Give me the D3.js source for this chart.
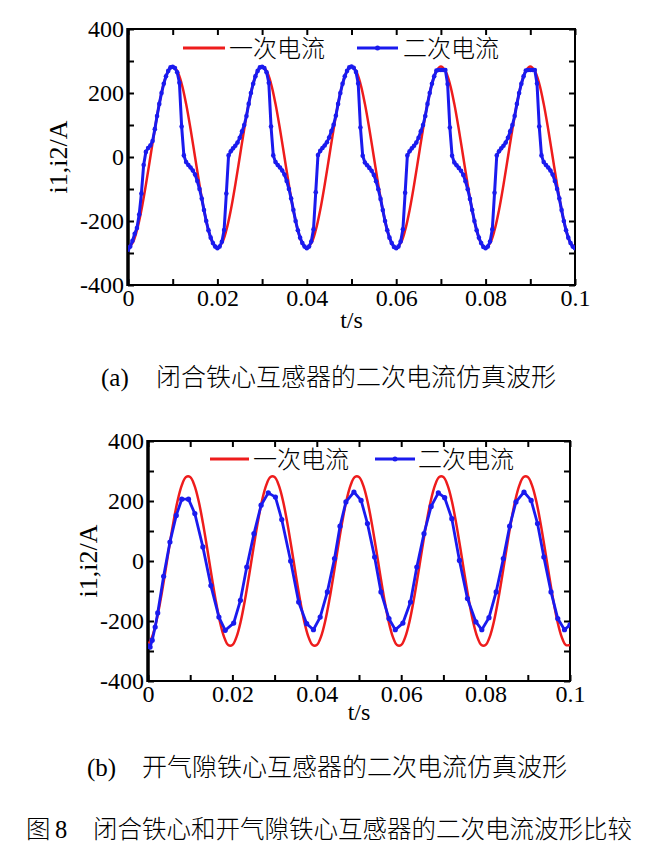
<!DOCTYPE html>
<html>
<head>
<meta charset="utf-8">
<script src="https://cdn.jsdelivr.net/npm/d3@7"></script>
<style>
  body { margin: 0; background: #fff; }
  svg text { fill: #000; }
  .num { font-family: "Liberation Serif", "Times New Roman", serif; }
  .cjk { font-family: "Noto Sans CJK SC", sans-serif; font-weight: 300; }
</style>
</head>
<body>
<svg id="svgBlock" width="646" height="853"></svg>
<script>
// legend names and tick labels
const seriesNames = ["一次电流", "二次电流"];
const xTicks = [0, 0.01, 0.02, 0.03, 0.04, 0.05, 0.06, 0.07, 0.08, 0.09, 0.1];
const xLabels = ["0", "", "0.02", "", "0.04", "", "0.06", "", "0.08", "", "0.1"];
const yTicks = [-400, -300, -200, -100, 0, 100, 200, 300, 400];
const yLabels = ["-400", "", "-200", "", "0", "", "200", "", "400"];

// (a) closed core: i1 sampled every 1 ms
const aTime1 = d3.range(0, 101).map(i => i * 0.001);
const aI1 = [
  -283,-269,-229,-166,-87,0,87,166,229,269,283,269,229,166,87,0,-87,-166,-229,-269,
  -283,-269,-229,-166,-87,0,87,166,229,269,283,269,229,166,87,0,-87,-166,-229,-269,
  -283,-269,-229,-166,-87,0,87,166,229,269,283,269,229,166,87,0,-87,-166,-229,-269,
  -283,-269,-229,-166,-87,0,87,166,229,269,283,269,229,166,87,0,-87,-166,-229,-269,
  -283,-269,-229,-166,-87,0,87,166,229,269,283,269,229,166,87,0,-87,-166,-229,-269,
  -283
];
// (a) closed core: i2 sampled every 0.5 ms
const aTime2 = d3.range(0, 201).map(i => i * 0.0005);
const aI2 = [
  -290,-280,-262,-240,-222,-180,-114,-25,16,28,36,50,87,128,166,200,229,252,269,280,
  282,278,265,232,95,5,-16,-25,-33,-42,-55,-75,-100,-130,-166,-200,-229,-252,-269,-280,
  -285,-280,-265,-228,-114,5,18,27,35,45,60,80,100,128,166,200,229,252,269,280,
  282,278,265,232,95,5,-16,-25,-33,-42,-55,-75,-100,-130,-166,-200,-229,-252,-269,-280,
  -285,-280,-264,-226,-110,6,19,28,36,46,61,81,101,129,166,200,229,252,269,280,
  283,279,266,230,92,4,-17,-26,-34,-43,-56,-76,-101,-131,-166,-200,-229,-252,-269,-281,
  -285,-280,-264,-226,-112,5,18,27,35,45,60,80,100,128,166,200,229,252,270,272,
  272,272,272,228,92,4,-17,-26,-34,-43,-56,-76,-101,-131,-166,-200,-229,-252,-269,-281,
  -285,-280,-264,-226,-112,5,18,27,35,45,60,80,100,128,166,200,229,252,270,272,
  272,272,272,230,95,5,-16,-25,-33,-42,-55,-75,-100,-130,-166,-200,-229,-252,-269,-280,
  -285
];

// (b) air-gap core: i1 sampled every 1 ms
const bTime1 = d3.range(0, 101).map(i => i * 0.001);
const bI1 = [
  -280,-252,-200,-128,-44,44,128,200,252,280,280,252,200,128,44,-44,-128,-200,-252,-280,
  -280,-252,-200,-128,-44,44,128,200,252,280,280,252,200,128,44,-44,-128,-200,-252,-280,
  -280,-252,-200,-128,-44,44,128,200,252,280,280,252,200,128,44,-44,-128,-200,-252,-280,
  -280,-252,-200,-128,-44,44,128,200,252,280,280,252,200,128,44,-44,-128,-200,-252,-280,
  -280,-252,-200,-128,-44,44,128,200,252,280,280,252,200,128,44,-44,-128,-200,-252,-280,
  -280
];
// (b) air-gap core: i2 at the solver's output points
const bTime2 = [
  0, 0.0005, 0.0010, 0.0017, 0.0023, 0.0037, 0.0052, 0.0067, 0.0080, 0.0096,
  0.0111, 0.0130, 0.0149, 0.0168, 0.0183, 0.0203, 0.0219, 0.0234, 0.0251, 0.0268,
  0.0285, 0.0302, 0.0317, 0.0338, 0.0357, 0.0376, 0.0392, 0.0408, 0.0425, 0.0442,
  0.0455, 0.0469, 0.0488, 0.0505, 0.0520, 0.0537, 0.0552, 0.0571, 0.0586, 0.0604,
  0.0622, 0.0637, 0.0654, 0.0671, 0.0688, 0.0703, 0.0720, 0.0738, 0.0757, 0.0777,
  0.0791, 0.0808, 0.0825, 0.0842, 0.0857, 0.0872, 0.0891, 0.0908, 0.0923, 0.0938,
  0.0955, 0.0971, 0.0987, 0.1000
];
const bI2 = [
  -283, -287, -264, -220, -173, -51, 63, 152, 206, 206,
  158, 47, -82, -187, -231, -207, -131, -20, 91, 186,
  227, 213, 138, 0, -137, -209, -229, -187, -103, 8,
  116, 197, 230, 202, 125, 13, -103, -192, -229, -207,
  -137, -20, 91, 182, 227, 211, 141, 2, -125, -203,
  -229, -189, -103, 8, 116, 197, 230, 202, 125, 13,
  -103, -192, -229, -213
];

const svg = d3.select("#svgBlock");

function drawPanel(p) {
  const x = d3.scaleLinear().domain([0, 0.1]).range([p.left, p.right]);
  const y = d3.scaleLinear().domain([-400, 400]).range([p.bottom, p.top]);
  const g = svg.append("g");

  const fmtX = d => xLabels[xTicks.indexOf(d)];
  const fmtY = d => yLabels[yTicks.indexOf(d)];

  // axes with inward ticks
  const styleAxis = sel => {
    sel.select(".domain").remove();
    sel.selectAll(".tick line").attr("stroke", "#000").attr("stroke-width", 2);
    sel.selectAll("text").attr("class", "num").style("font-size", "24px").attr("fill", "#000");
  };
  g.append("g").attr("transform", `translate(0,${p.bottom})`)
    .call(d3.axisBottom(x).tickValues(xTicks).tickFormat(fmtX).tickSizeInner(-6).tickSizeOuter(0).tickPadding(4))
    .call(styleAxis);
  g.append("g").attr("transform", `translate(0,${p.top})`)
    .call(d3.axisTop(x).tickValues(xTicks).tickFormat("").tickSizeInner(-6).tickSizeOuter(0))
    .call(styleAxis);
  g.append("g").attr("transform", `translate(${p.left},0)`)
    .call(d3.axisLeft(y).tickValues(yTicks).tickFormat(fmtY).tickSizeInner(-6).tickSizeOuter(0).tickPadding(4))
    .call(styleAxis);
  g.append("g").attr("transform", `translate(${p.right},0)`)
    .call(d3.axisRight(y).tickValues(yTicks).tickFormat("").tickSizeInner(-6).tickSizeOuter(0))
    .call(styleAxis);

  // frame
  g.append("rect")
    .attr("x", p.left).attr("y", p.top)
    .attr("width", p.right - p.left).attr("height", p.bottom - p.top)
    .attr("fill", "none").attr("stroke", "#000").attr("stroke-width", 2);
  g.append("line")
    .attr("x1", p.left).attr("x2", p.left).attr("y1", p.top - 1).attr("y2", p.bottom + 1)
    .attr("stroke", "#000").attr("stroke-width", 3.5);

  // curves
  const clipId = "clip" + p.id;
  g.append("clipPath").attr("id", clipId).append("rect")
    .attr("x", p.left).attr("y", p.top).attr("width", p.right - p.left).attr("height", p.bottom - p.top);
  const plot = g.append("g").attr("clip-path", `url(#${clipId})`);

  const red = p.t1.map((t, i) => [t, p.i1[i]]);
  const blue = p.t2.map((t, i) => [t, p.i2[i]]);
  const lineRed = d3.line().x(d => x(d[0])).y(d => y(d[1])).curve(d3.curveCatmullRom);
  const lineBlue = d3.line().x(d => x(d[0])).y(d => y(d[1]));

  plot.append("path").datum(red).attr("d", lineRed)
    .attr("fill", "none").attr("stroke", "#ee1c1c").attr("stroke-width", 2.5);
  plot.append("path").datum(blue).attr("d", lineBlue)
    .attr("fill", "none").attr("stroke", "#1a1aee").attr("stroke-width", p.blueW);
  plot.selectAll("circle.m").data(blue).enter().append("circle")
    .attr("class", "m")
    .attr("cx", d => x(d[0])).attr("cy", d => y(d[1]))
    .attr("r", p.markR).attr("fill", "#1a1aee");

  // legend
  const ly = p.legendY;
  g.append("line").attr("x1", p.leg[0]).attr("x2", p.leg[1]).attr("y1", ly).attr("y2", ly)
    .attr("stroke", "#ee1c1c").attr("stroke-width", 3);
  g.append("text").attr("class", "cjk").attr("x", p.leg[2]).attr("y", ly).attr("dy", "0.36em")
    .style("font-size", "24px").text(seriesNames[0]);
  g.append("line").attr("x1", p.leg[3]).attr("x2", p.leg[4]).attr("y1", ly).attr("y2", ly)
    .attr("stroke", "#1a1aee").attr("stroke-width", 3);
  g.append("circle").attr("cx", (p.leg[3] + p.leg[4]) / 2).attr("cy", ly).attr("r", 2.5).attr("fill", "#1a1aee");
  g.append("text").attr("class", "cjk").attr("x", p.leg[5]).attr("y", ly).attr("dy", "0.36em")
    .style("font-size", "24px").text(seriesNames[1]);

  // axis titles
  g.append("text").attr("class", "num")
    .attr("transform", `translate(${p.yLabelX},${(p.top + p.bottom) / 2}) rotate(-90)`)
    .attr("text-anchor", "middle").attr("dy", "0.35em")
    .style("font-size", "26px").text("i1,i2/A");
  g.append("text").attr("class", "num")
    .attr("x", (p.left + p.right) / 2).attr("y", p.xLabelY)
    .attr("text-anchor", "middle").attr("dy", "0.35em")
    .style("font-size", "24px").text("t/s");
}

drawPanel({
  id: "a", left: 128, right: 575, top: 29, bottom: 285,
  t1: aTime1, i1: aI1, t2: aTime2, i2: aI2, markR: 2.3, blueW: 3,
  legendY: 48, leg: [183, 225, 229, 357, 398, 403],
  yLabelX: 58, xLabelY: 320
});
drawPanel({
  id: "b", left: 148, right: 570, top: 441, bottom: 681,
  t1: bTime1, i1: bI1, t2: bTime2, i2: bI2, markR: 2.6, blueW: 2.8,
  legendY: 459, leg: [210, 249, 253, 375, 415, 418],
  yLabelX: 88, xLabelY: 712
});

// captions
function caption(xa, label, xt, text, yc, size) {
  svg.append("text").attr("class", "num").attr("x", xa).attr("y", yc).attr("dy", "0.35em")
    .style("font-size", size + "px").text(label);
  svg.append("text").attr("class", "cjk").attr("x", xt).attr("y", yc).attr("dy", "0.36em")
    .style("font-size", size + "px").text(text);
}
caption(101, "(a)", 156, "闭合铁心互感器的二次电流仿真波形", 377, 25);
caption(87, "(b)", 142, "开气隙铁心互感器的二次电流仿真波形", 767, 25);
svg.append("text").attr("class", "cjk").attr("x", 26).attr("y", 829).attr("dy", "0.36em")
  .style("font-size", "24.5px").text("图");
svg.append("text").attr("class", "num").attr("x", 55).attr("y", 829).attr("dy", "0.35em")
  .style("font-size", "24.5px").text("8");
svg.append("text").attr("class", "cjk").attr("x", 93).attr("y", 829).attr("dy", "0.36em")
  .style("font-size", "24.5px").text("闭合铁心和开气隙铁心互感器的二次电流波形比较");
</script>
</body>
</html>
